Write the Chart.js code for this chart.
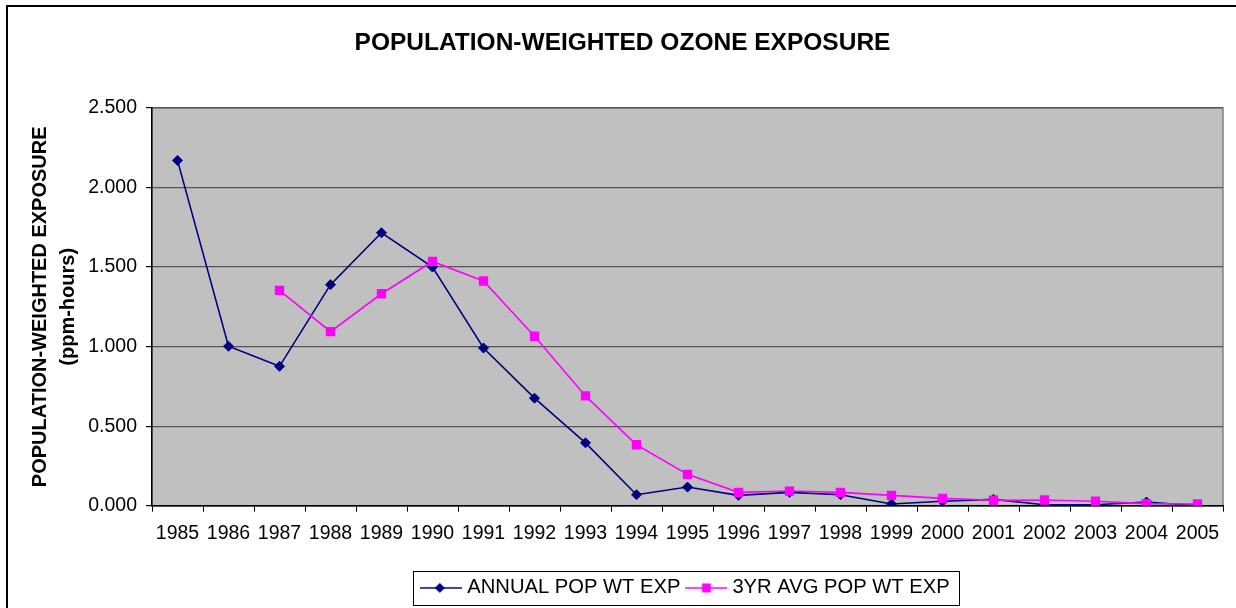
<!DOCTYPE html>
<html>
<head>
<meta charset="utf-8">
<script src="https://cdn.jsdelivr.net/npm/chart.js@4.4.1/dist/chart.umd.min.js"></script>
<style>
  html, body { margin: 0; padding: 0; background: #fff; }
  #wrap { width: 1236px; height: 608px; position: relative; }
</style>
</head>
<body>
<div id="wrap"><canvas id="c" width="1236" height="608"></canvas></div>
<script>
const years = ['1985','1986','1987','1988','1989','1990','1991','1992','1993','1994','1995','1996','1997','1998','1999','2000','2001','2002','2003','2004','2005'];
const annualPopWtExp = [2.170, 1.002, 0.876, 1.389, 1.715, 1.500, 0.991, 0.676, 0.395, 0.069, 0.117, 0.065, 0.084, 0.069, 0.011, 0.028, 0.040, 0.006, 0.006, 0.023, 0.000];
const avg3yrPopWtExp = [null, null, 1.353, 1.094, 1.332, 1.535, 1.412, 1.065, 0.690, 0.383, 0.197, 0.084, 0.092, 0.084, 0.065, 0.046, 0.034, 0.036, 0.028, 0.013, 0.011];
const yTickValues = [0, 0.5, 1.0, 1.5, 2.0, 2.5];
const titleText = 'POPULATION-WEIGHTED OZONE EXPOSURE';
const yTitleLines = ['POPULATION-WEIGHTED EXPOSURE', '(ppm-hours)'];
const seriesNames = ['ANNUAL POP WT EXP', '3YR AVG POP WT EXP'];

const FONT = 'Arial, "Liberation Sans", Helvetica, sans-serif';

function legendIcon(color, style) {
  const cv = document.createElement('canvas');
  cv.width = 42; cv.height = 12;
  const g = cv.getContext('2d');
  g.strokeStyle = color; g.lineWidth = 1.5;
  g.beginPath(); g.moveTo(0, 6); g.lineTo(42, 6); g.stroke();
  g.fillStyle = color;
  g.beginPath();
  if (style === 'diamond') {
    g.moveTo(19.5, 1); g.lineTo(24.5, 6); g.lineTo(19.5, 11); g.lineTo(14.5, 6); g.closePath();
  } else {
    g.rect(16.5, 1.5, 9, 9);
  }
  g.fill();
  return cv;
}
const iconAnnual = legendIcon('#000080', 'diamond');
const iconAvg = legendIcon('#FF00FF', 'square');

const framePlugin = {
  id: 'frame',
  afterLayout(chart) {
    const t = chart.titleBlock;
    if (t) { t.left += 11; t.right += 11; }
  },
  beforeDraw(chart) {
    const ctx = chart.ctx, a = chart.chartArea;
    ctx.save();
    ctx.fillStyle = '#ffffff';
    ctx.fillRect(0, 0, chart.width, chart.height);
    ctx.fillStyle = '#C0C0C0';
    ctx.fillRect(a.left, a.top, a.right - a.left, a.bottom - a.top);
    ctx.strokeStyle = '#808080'; ctx.lineWidth = 1.5;
    ctx.strokeRect(a.left, a.top, a.right - a.left, a.bottom - a.top);
    ctx.strokeStyle = '#000'; ctx.lineWidth = 2;
    ctx.strokeRect(7, 6, chart.width + 20, chart.height + 20);
    ctx.restore();
  },
  afterDraw(chart) {
    const lg = chart.legend;
    if (!lg || !lg.legendHitBoxes || !lg.legendHitBoxes.length) return;
    const hb = lg.legendHitBoxes;
    const first = hb[0], last = hb[hb.length - 1];
    const ctx = chart.ctx;
    ctx.save();
    ctx.strokeStyle = '#000'; ctx.lineWidth = 1;
    const x0 = Math.round(first.left - 12) + 0.5;
    const x1 = Math.round(last.left + last.width + 9) + 0.5;
    const y0 = Math.round(first.top - 7.3) + 0.5;
    const y1 = Math.round(first.top + first.height + 7) + 0.5;
    ctx.strokeRect(x0, y0, x1 - x0, y1 - y0);
    ctx.restore();
  }
};

new Chart(document.getElementById('c'), {
  type: 'line',
  data: {
    labels: years,
    datasets: [
      {
        label: seriesNames[0],
        data: annualPopWtExp,
        borderColor: '#000080',
        backgroundColor: '#000080',
        borderWidth: 1.6,
        pointStyle: 'rectRot',
        pointRadius: 5,
        pointHoverRadius: 5,
        pointBorderWidth: 1,
        tension: 0,
        order: 2,
        spanGaps: false
      },
      {
        label: seriesNames[1],
        data: avg3yrPopWtExp,
        borderColor: '#FF00FF',
        backgroundColor: '#FF00FF',
        borderWidth: 1.6,
        pointStyle: 'rect',
        pointRadius: 6.6,
        pointHoverRadius: 6.6,
        pointBorderWidth: 0,
        tension: 0,
        order: 1,
        spanGaps: false
      }
    ]
  },
  options: {
    responsive: false,
    animation: false,
    devicePixelRatio: 1,
    layout: { padding: { left: 0, right: 13, top: 0, bottom: 0 } },
    plugins: {
      tooltip: { enabled: false },
      title: {
        display: true,
        text: titleText,
        color: '#000',
        font: { family: FONT, size: 24.5, weight: 'bold', lineHeight: 1.2 },
        padding: { top: 28.5, bottom: 50 }
      },
      legend: {
        display: true,
        position: 'bottom',
        fullSize: false,
        labels: {
          color: '#000',
          font: { family: FONT, size: 20.2 },
          padding: 10.1,
          usePointStyle: true,
          pointStyleWidth: 31.8,
          sort: (a, b) => a.datasetIndex - b.datasetIndex,
          generateLabels(chart) {
            return chart.data.datasets.map((ds, i) => ({
              text: ds.label,
              datasetIndex: i,
              pointStyle: i === 0 ? iconAnnual : iconAvg,
              fillStyle: ds.borderColor,
              strokeStyle: ds.borderColor,
              lineWidth: 0,
              fontColor: '#000',
              hidden: false
            }));
          }
        }
      }
    },
    scales: {
      x: {
        type: 'category',
        offset: true,
        grid: {
          offset: true,
          drawOnChartArea: false,
          drawTicks: true,
          tickLength: 6,
          tickColor: '#000',
          color: '#000'
        },
        border: { display: true, color: '#000', width: 1.5 },
        ticks: {
          color: '#000',
          font: { family: FONT, size: 19.5 },
          padding: 10,
          maxRotation: 0,
          autoSkip: false
        },
        afterFit(scale) { scale.height = 62; }
      },
      y: {
        min: 0,
        max: 2.5,
        afterBuildTicks(scale) { scale.ticks = yTickValues.map(v => ({ value: v })); },
        grid: {
          color: '#555555',
          lineWidth: 1.2,
          drawTicks: true,
          tickLength: 6,
          tickColor: '#000'
        },
        border: { display: true, color: '#000', width: 1.5 },
        ticks: {
          color: '#000',
          font: { family: FONT, size: 19.5 },
          padding: 9,
          callback: (v) => Number(v).toFixed(3)
        },
        title: {
          display: true,
          text: yTitleLines,
          color: '#000',
          font: { family: FONT, size: 20, weight: 'bold', lineHeight: 1.4 },
          padding: { top: 26, bottom: 0 }
        },
        afterFit(scale) { scale.width = 152; }
      }
    }
  },
  plugins: [framePlugin]
});
</script>
</body>
</html>
